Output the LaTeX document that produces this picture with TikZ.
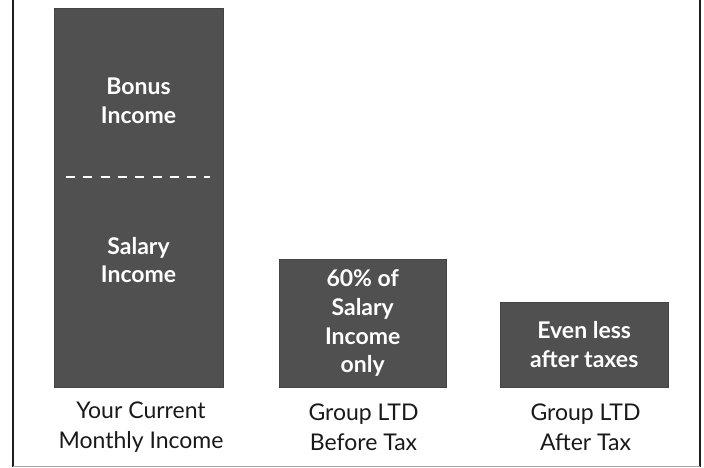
\documentclass[tikz,border=0pt]{standalone}
\usepackage{fontspec}
\setmainfont{Lato}
\definecolor{barfill}{RGB}{80,80,80}
\definecolor{framecol}{RGB}{30,30,30}
\tikzset{
  bar/.style={draw=barfill!85!black, fill=barfill, inner sep=0pt, anchor=north west},
  bartext/.style={text=white, font=\fontsize{23}{28.8}\selectfont\bfseries, align=center, inner sep=0pt},
  lab/.style={text=black!90, font=\fontsize{23}{29.5}\selectfont, align=center, inner sep=0pt},
  framerule/.style={draw=framecol, line width=2pt}
}
\begin{document}
\begin{tikzpicture}[x=1pt,y=-1pt]
\useasboundingbox (0,0) rectangle (704,467);
\draw[framerule] (13,0) -- (13,467);
\draw[framerule] (700,0) -- (700,467);
\draw[draw=black!35, line width=0.8pt] (13,466) -- (700,466);
% bars
\node[bar, minimum width=169pt, minimum height=379pt] (b1) at (54,8) {};
\node[bar, minimum width=167pt, minimum height=128pt] (b2) at (279,259) {};
\node[bar, minimum width=168pt, minimum height=85pt] (b3) at (500,302) {};
% divider in bar 1
\draw[white, line width=2pt, dash pattern=on 9pt off 8.3pt] (66,177) -- (210,177);
% bar texts
\node[bartext] (t1) at (138.5,101) {Bonus\\Income};
\node[bartext] (t2) at (138.5,260) {Salary\\Income};
\node[bartext] (t3) at (b2.center) {60\% of\\Salary\\Income\\only};
\node[bartext] (t4) at (b3.center) {Even less\\after taxes};
% labels
\node[lab] (l1) at (141,427) {Your Current\\Monthly Income};
\node[lab] (l2) at (363.5,427) {Group LTD\\Before Tax};
\node[lab] (l3) at (585.5,427) {Group LTD\\After Tax};
\end{tikzpicture}
\end{document}
